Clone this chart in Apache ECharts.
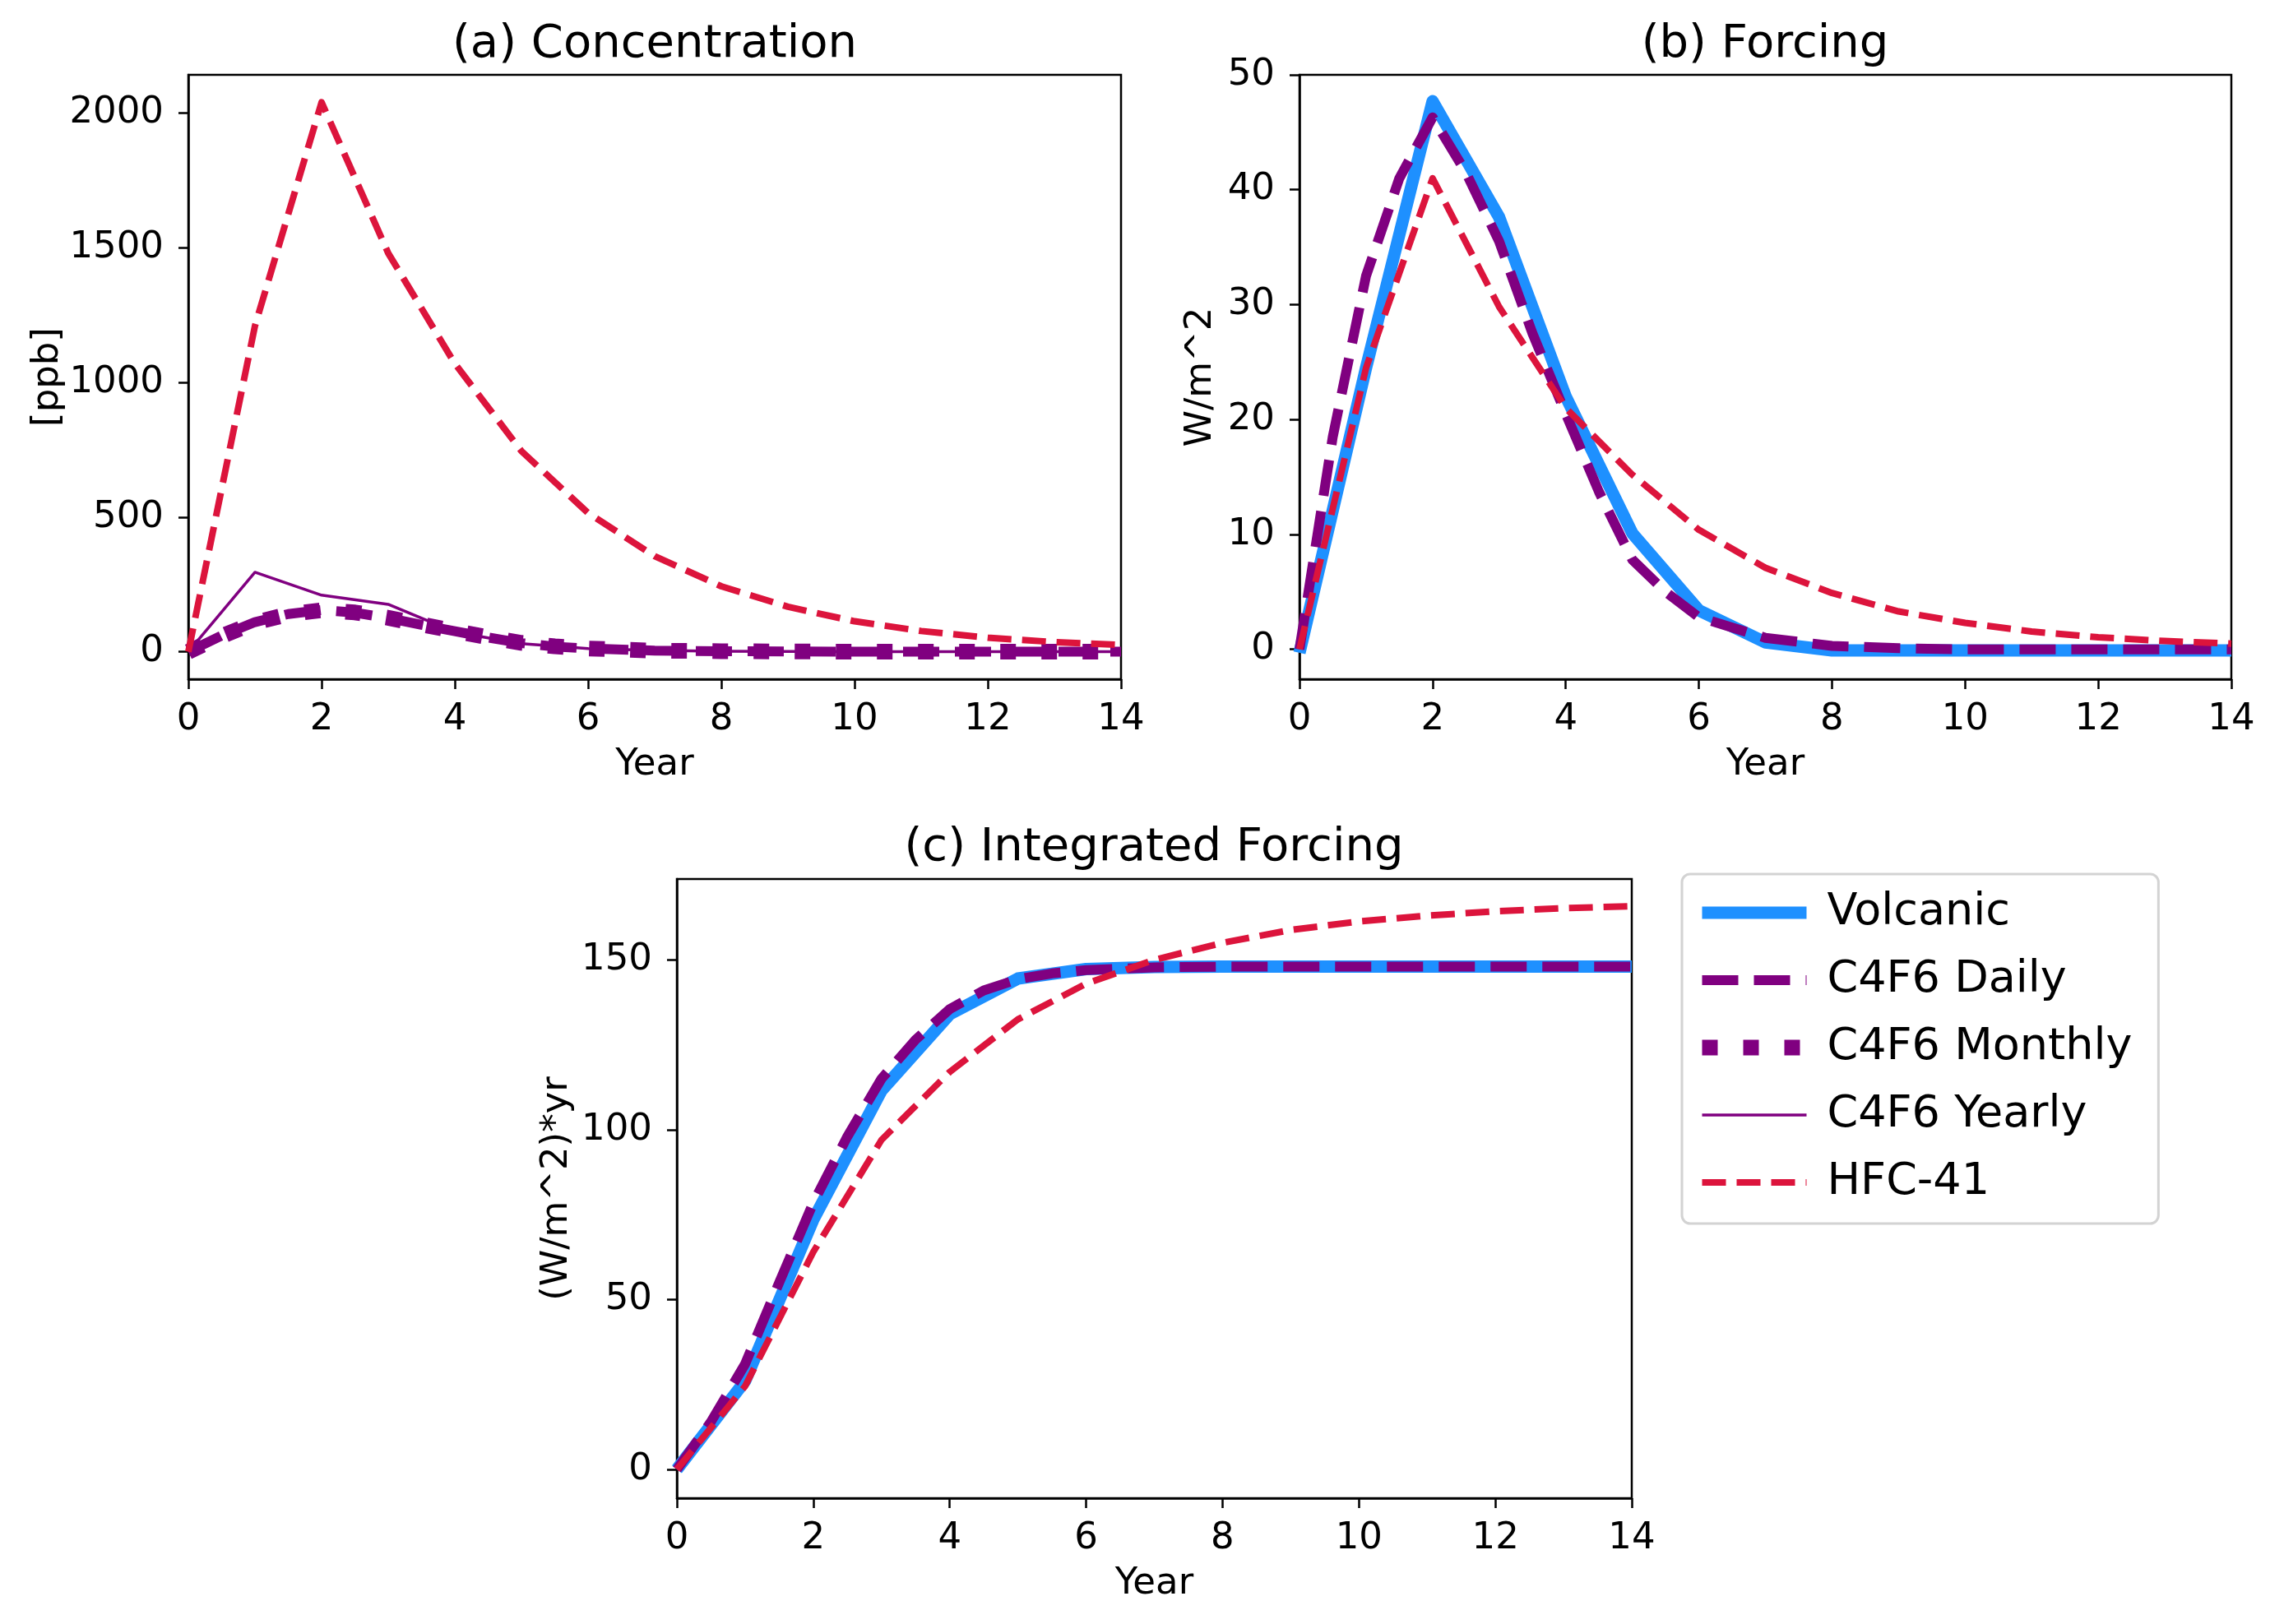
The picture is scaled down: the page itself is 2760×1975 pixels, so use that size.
<!DOCTYPE html>
<html>
<head>
<meta charset="utf-8">
<script src="https://cdn.jsdelivr.net/npm/echarts@6/dist/echarts.min.js"></script>
<style>
  html, body { margin: 0; padding: 0; background: #fff; }
  #chart { width: 2760px; height: 1975px; }
</style>
</head>
<body>
<div id="chart"></div>
<script>
// ---- data ----
const years = [0, 1, 2, 3, 4, 5, 6, 7, 8, 9, 10, 11, 12, 13, 14];
const fineYears = [0, 0.5, 1, 1.5, 2, 2.5, 3, 3.5, 4, 4.5, 5, 5.5, 6, 7, 8, 9, 10, 12, 14];

// (a) concentration [ppb]
const concDaily   = [0, 60, 110, 140, 155, 145, 125, 100, 76, 53, 32, 19, 12, 4, 2, 1, 0, 0, 0];
const concMonthly = [0, 58, 108, 139, 154, 146, 126, 101, 77, 54, 33, 20, 12, 4, 2, 1, 0, 0, 0];
const concYearly  = [0, 295, 210, 176, 73, 30, 12, 5, 2, 1, 0, 0, 0, 0, 0];
const concHfc     = [0, 1210, 2040, 1480, 1070, 745, 515, 355, 243, 167, 113, 77, 52, 36, 25];

// (b) forcing [W/m^2]
const forcVolcanic = [-0.3, 24.5, 47.7, 37.6, 22, 10.1, 3.4, 0.6, -0.1, -0.1, -0.1, -0.1, -0.1, -0.1, -0.1];
const forcDaily    = [0, 18.5, 32.5, 41, 46.3, 41.5, 35.5, 27.5, 20.5, 13.7, 7.8, 5, 2.8, 1.0, 0.3, 0.1, 0, 0, 0];
const forcHfc      = [0, 24.5, 41, 29.8, 21, 15.2, 10.4, 7.1, 4.9, 3.3, 2.3, 1.55, 1.05, 0.72, 0.5];

// (c) integrated forcing [(W/m^2)*yr]
const intVolcanic = [0, 26, 73.5, 111.5, 134, 144.5, 147.3, 147.9, 148, 148, 148, 148, 148, 148, 148];
const intDaily    = [0, 14, 31, 55, 78.5, 98, 115, 126.5, 135.5, 141, 144.3, 146, 147, 147.8, 148, 148, 148, 148, 148];
const intHfc      = [0, 24.5, 64, 97, 117, 132.5, 143, 150, 155, 158.8, 161.3, 163, 164.3, 165.2, 165.8];

// tick labels
const xTicks = [0, 2, 4, 6, 8, 10, 12, 14];
const concTicks = [0, 500, 1000, 1500, 2000];
const forcTicks = [0, 10, 20, 30, 40, 50];
const intTicks = [0, 50, 100, 150];

const legendNames = ['Volcanic', 'C4F6 Daily', 'C4F6 Monthly', 'C4F6 Yearly', 'HFC-41'];

// ---- styling ----
const FONT = 'DejaVu Sans';
const BLUE = '#1E90FF', PURPLE = '#800080', RED = '#DC143C';

const styles = {
  'Volcanic':     { color: BLUE,   width: 15,  type: 'solid' },
  'C4F6 Daily':   { color: PURPLE, width: 12,  type: [44, 19] },
  'C4F6 Monthly': { color: PURPLE, width: 19,  type: [19, 31] },
  'C4F6 Yearly':  { color: PURPLE, width: 3.5, type: 'solid' },
  'HFC-41':       { color: RED,    width: 8,   type: [29, 13] }
};

function zip(xs, ys) {
  return xs.map((x, i) => [x, ys[i]]);
}

function line(name, idx, xs, ys) {
  const s = styles[name];
  return {
    type: 'line',
    name: name,
    xAxisIndex: idx,
    yAxisIndex: idx,
    data: zip(xs, ys),
    symbol: 'none',
    color: s.color,
    lineStyle: { color: s.color, width: s.width, type: s.type, cap: 'butt', join: 'round' },
    emphasis: { disabled: true },
    z: 2
  };
}

const grids = [
  { left: 229, top: 91, width: 1134, height: 735 },
  { left: 1580, top: 91, width: 1133, height: 735 },
  { left: 823, top: 1069, width: 1161, height: 753 }
];

const plain = v => String(v);
const axisLineStyle = { color: '#000', width: 2.5 };

function xAxis(idx) {
  return {
    type: 'value', gridIndex: idx, min: 0, max: 14,
    name: 'Year', nameLocation: 'middle', nameGap: 82,
    nameTextStyle: { fontFamily: FONT, fontSize: 45, color: '#000' },
    axisLine: { show: true, onZero: false, lineStyle: axisLineStyle },
    axisTick: { show: true, inside: false, length: 12, customValues: xTicks, lineStyle: axisLineStyle },
    axisLabel: { fontFamily: FONT, fontSize: 45, color: '#000', margin: 27,
                 customValues: xTicks, formatter: plain },
    splitLine: { show: false }
  };
}

function yAxis(idx, min, max, ticks, name, gap) {
  return {
    type: 'value', gridIndex: idx, min: min, max: max,
    name: name, nameLocation: 'middle', nameRotate: 90, nameGap: gap,
    nameTextStyle: { fontFamily: FONT, fontSize: 45, color: '#000' },
    axisLine: { show: true, onZero: false, lineStyle: axisLineStyle },
    axisTick: { show: true, inside: false, length: 12, customValues: ticks, lineStyle: axisLineStyle },
    axisLabel: { fontFamily: FONT, fontSize: 45, color: '#000', margin: 30,
                 customValues: ticks, formatter: plain },
    splitLine: { show: false }
  };
}

const titleStyle = { fontFamily: FONT, fontSize: 56, fontWeight: 'normal', color: '#000' };

const option = {
  animation: false,
  backgroundColor: '#fff',
  title: [
    { text: '(a) Concentration', left: 796, top: 26, textAlign: 'center', padding: 0, textStyle: titleStyle },
    { text: '(b) Forcing', left: 2146, top: 26, textAlign: 'center', padding: 0, textStyle: titleStyle },
    { text: '(c) Integrated Forcing', left: 1403, top: 1003, textAlign: 'center', padding: 0, textStyle: titleStyle }
  ],
  grid: grids.map(g => Object.assign({ show: true, borderColor: '#000', borderWidth: 2.5,
                                        backgroundColor: 'transparent', containLabel: false }, g)),
  xAxis: [xAxis(0), xAxis(1), xAxis(2)],
  yAxis: [
    yAxis(0, -102, 2142, concTicks, '[ppb]', 144),
    yAxis(1, -2.6, 50, forcTicks, 'W/m^2', 97),
    yAxis(2, -8.5, 173.8, intTicks, '(W/m^2)*yr', 123)
  ],
  legend: {
    orient: 'vertical',
    left: 2045, top: 1063,
    data: legendNames,
    itemWidth: 127, itemHeight: 20, itemGap: 22,
    padding: [17, 32, 20, 15],
    borderColor: '#d3d3d3', borderWidth: 3, borderRadius: 10,
    backgroundColor: '#fff',
    selectedMode: false,
    itemStyle: { opacity: 0 },
    lineStyle: { width: 'inherit' },
    textStyle: { fontFamily: FONT, fontSize: 54, color: '#000', lineHeight: 60, padding: [0, 0, 0, 20] }
  },
  series: [
    // (a)
    line('C4F6 Daily', 0, fineYears, concDaily),
    line('C4F6 Monthly', 0, fineYears, concMonthly),
    line('C4F6 Yearly', 0, years, concYearly),
    line('HFC-41', 0, years, concHfc),
    // (b)
    line('Volcanic', 1, years, forcVolcanic),
    line('C4F6 Daily', 1, fineYears, forcDaily),
    line('HFC-41', 1, years, forcHfc),
    // (c)
    line('Volcanic', 2, years, intVolcanic),
    line('C4F6 Daily', 2, fineYears, intDaily),
    line('HFC-41', 2, years, intHfc)
  ]
};

const chart = echarts.init(document.getElementById('chart'), null, { renderer: 'canvas' });
chart.setOption(option);
</script>
</body>
</html>
